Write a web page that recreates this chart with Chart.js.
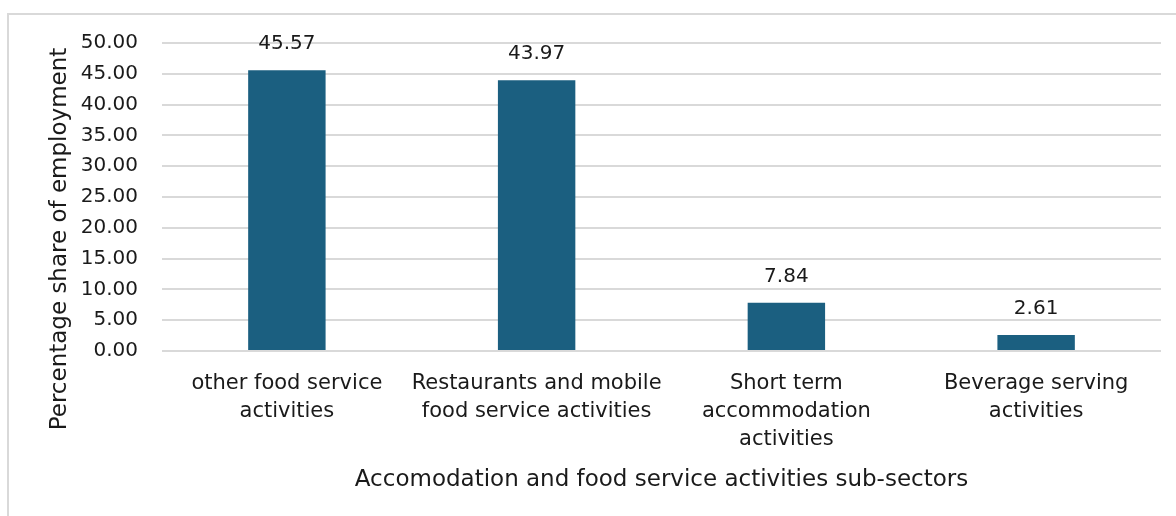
<!DOCTYPE html>
<html>
<head>
<meta charset="utf-8">
<script src="https://cdn.jsdelivr.net/npm/chart.js@4.4.1/dist/chart.umd.min.js"></script>
<style>
    html, body { margin: 0; padding: 0; background: #fff; }
    #frame {
        position: absolute; left: 7px; top: 13px;
        width: 1200px; height: 540px;
        border: 2px solid #d9d9d9;
    }
    #wrap { position: absolute; left: 0; top: 0; width: 1176px; height: 516px; }
</style>
</head>
<body>
<div id="frame"></div>
<div id="wrap"><canvas id="subsectorChart"></canvas></div>
<script>
// Share of employment by accommodation & food service sub-sector
const categories = [
    ['other food service', 'activities'],
    ['Restaurants and mobile', 'food service activities'],
    ['Short term', 'accommodation', 'activities'],
    ['Beverage serving', 'activities']
];
const shares = [45.57, 43.97, 7.84, 2.61];
const yTicks = [0, 5, 10, 15, 20, 25, 30, 35, 40, 45, 50];
const yTitle = 'Percentage share of employment';
const xTitle = 'Accomodation and food service activities sub-sectors';

const FONT = '"DejaVu Sans", sans-serif';
const TEXT = '#1a1a1a';
const BAR = '#1b5f80';
const GRID = '#d9d9d9';

// Writes each bar's value above it
const valueLabels = {
    id: 'valueLabels',
    afterDatasetsDraw(chart) {
        const ctx = chart.ctx;
        const meta = chart.getDatasetMeta(0);
        ctx.save();
        ctx.font = '20px ' + FONT;
        ctx.fillStyle = TEXT;
        ctx.textAlign = 'center';
        ctx.textBaseline = 'middle';
        meta.data.forEach((bar, i) => {
            ctx.fillText(shares[i].toFixed(2), bar.x, bar.y - 26);
        });
        ctx.restore();
    }
};

// Vertical axis title, centred on the whole plot block rather than the axis
const sideTitle = {
    id: 'sideTitle',
    afterDraw(chart) {
        const ctx = chart.ctx;
        ctx.save();
        ctx.translate(60, 239);
        ctx.rotate(-Math.PI / 2);
        ctx.font = '23px ' + FONT;
        ctx.fillStyle = TEXT;
        ctx.textAlign = 'center';
        ctx.textBaseline = 'middle';
        ctx.fillText(yTitle, 0, 0);
        ctx.restore();
    }
};

new Chart(document.getElementById('subsectorChart'), {
    type: 'bar',
    data: {
        labels: categories,
        datasets: [{
            data: shares,
            backgroundColor: BAR,
            borderWidth: 0,
            barPercentage: 0.62,
            categoryPercentage: 0.5
        }]
    },
    options: {
        responsive: true,
        maintainAspectRatio: false,
        animation: false,
        layout: { padding: { left: 40, right: 15, top: 43, bottom: 18 } },
        plugins: {
            legend: { display: false },
            tooltip: { enabled: false }
        },
        scales: {
            y: {
                min: 0,
                max: 50,
                afterBuildTicks: (scale) => {
                    scale.ticks = yTicks.map(v => ({ value: v }));
                },
                afterFit: (scale) => { scale.width = 122; },
                border: { display: false },
                grid: { color: GRID, lineWidth: 2, drawTicks: false },
                ticks: {
                    padding: 24,
                    color: TEXT,
                    font: { family: FONT, size: 20 },
                    callback: (v) => Number(v).toFixed(2)
                }
            },
            x: {
                afterFit: (scale) => { scale.height = 147; },
                border: { display: false },
                grid: { display: false, drawTicks: false },
                ticks: {
                    padding: 19,
                    maxRotation: 0,
                    autoSkip: false,
                    color: TEXT,
                    font: { family: FONT, size: 21, lineHeight: 1.33 }
                },
                title: {
                    display: true,
                    text: xTitle,
                    color: TEXT,
                    font: { family: FONT, size: 23 },
                    padding: { top: 0, bottom: 4 }
                }
            }
        }
    },
    plugins: [valueLabels, sideTitle]
});
</script>
</body>
</html>
